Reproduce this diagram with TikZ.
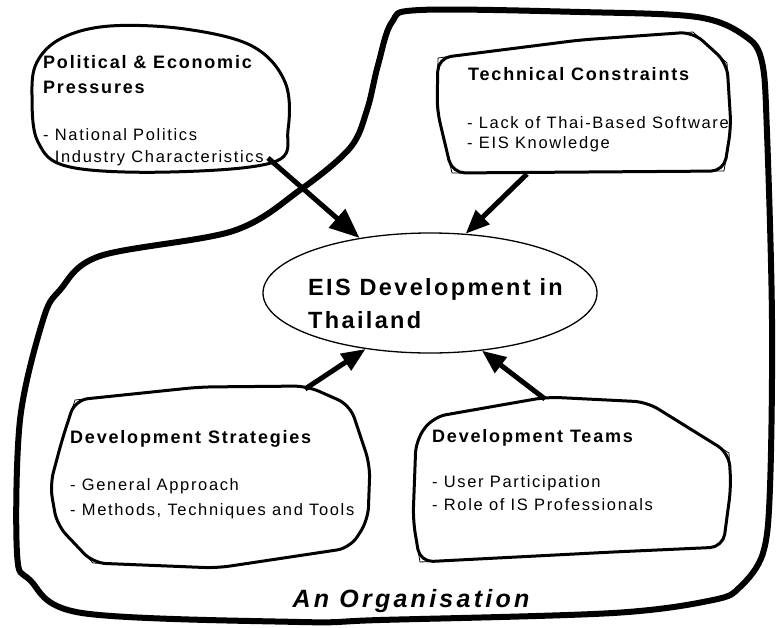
\documentclass[tikz,border=0pt]{standalone}
\usepackage{fontspec}
\setmainfont{Liberation Sans}[LetterSpace=10]
\newfontfamily\orgfont{Liberation Sans}[LetterSpace=13]
\usetikzlibrary{arrows.meta,shapes.geometric,calc}

\begin{document}
\begin{tikzpicture}[
  x=1pt,y=-1pt,
  line join=round,
  blob/.style={draw=black,line width=3pt,rounded corners=13pt},
  corner/.style={draw=black,line width=0.8pt},
  heading/.style={anchor=base west,inner sep=0pt,align=left,font=\bfseries\fontsize{18}{25}\selectfont},
  items/.style={anchor=base west,inner sep=0pt,align=left,font=\fontsize{16.5}{22}\selectfont},
  push/.style={line width=5pt,-{Triangle[length=24pt,width=19pt]}}
]
  \useasboundingbox (0,0) rectangle (776,627);

  % the organisation boundary
  \draw[line width=6pt] plot[smooth cycle,tension=0.55] coordinates {
    (392,22) (420,10) (580,12) (697,17) (745,36) (762,62) (767,133) (772,320)
    (770,487) (763,553) (740,587) (713,600) (613,613) (380,620) (300,622)
    (82,613) (30,580) (17,553) (20,420) (43,320) (60,290) (100,256) (233,231)
    (300,190) (350,148) (367,110) (378,65)};

  % factor boxes
  \draw[line width=3pt] plot[smooth cycle,tension=0.6] coordinates {
    (37,62) (62,38) (110,26) (185,29) (252,46) (285,82) (288,130) (274,162)
    (170,172) (70,167) (38,142) (32,95)};
  \draw[blob] (438,58) -- (580,40) -- (693,32) -- (727,63) -- (731,127) -- (724,171) -- (452,173) -- (437,110) -- cycle;
  \draw[corner] (438,58) -- (580,40) -- (693,32) -- (727,63) -- (731,127) -- (724,171) -- (452,173) -- (437,110) -- cycle;
  \draw[blob] (75,400) -- (200,387) -- (307,386) -- (350,405) -- (370,465) -- (368,520) -- (350,548) -- (217,568) -- (93,563) -- (57,525) -- (50,485) -- (62,440) -- cycle;
  \draw[corner] ($(75,400)!13pt!(62,440)$) -- (75,400) -- ($(75,400)!13pt!(200,387)$);
  \draw[corner] ($(93,563)!13pt!(217,568)$) -- (93,563) -- ($(93,563)!13pt!(57,525)$);
  \draw[blob] (433,417) -- (547,397) -- (647,402) -- (729,453) -- (731,487) -- (723,547) -- (613,552) -- (420,562) -- (413,520) -- (416,440) -- cycle;
  \draw[corner] ($(729,453)!13pt!(647,402)$) -- (729,453) -- ($(729,453)!13pt!(731,487)$);
  \draw[corner] ($(420,562)!13pt!(613,552)$) -- (420,562) -- ($(420,562)!13pt!(413,520)$);

  % multi-line nodes sit on the baseline of their last line
  \node[heading] (pol-head) at (43,93) {Political \& Economic\\Pressures};
  \node[items] (pol-list) at (43,162) {- National Politics\\\phantom{- }Industry Characteristics};
  \node[heading] (tech-head) at (468,80) {Technical Constraints};
  \node[items] (tech-list) at (467,148) {- Lack of Thai-Based Software\\[-2pt]- EIS Knowledge};
  \node[heading] (strat-head) at (70,443) {Development Strategies};
  \node[items] (strat-list) at (70,515) {- General Approach\\[3pt]- Methods, Techniques and Tools};
  \node[heading] (team-head) at (432,442) {Development Teams};
  \node[items] (team-list) at (432,510) {- User Participation\\[1pt]- Role of IS Professionals};

  \node[ellipse,draw,line width=1.3pt,minimum width=334pt,minimum height=120pt] (eis) at (430,293) {};
  \node[anchor=base west,inner sep=0pt,align=left,font=\bfseries\fontsize{23.5}{33}\selectfont]
    (eis-text) at (308,328) {EIS Development in\\Thailand};

  \coordinate (pol-foot) at (268,158);
  \coordinate (tech-foot) at (527,174);
  \coordinate (strat-foot) at (305,389);
  \coordinate (team-foot) at (545,399);
  \draw[push,-{Triangle[length=30pt,width=24pt]}] (pol-foot) -- (eis.142);
  \draw[push] (tech-foot) -- (eis.59);
  \draw[push] (strat-foot) -- (eis.221);
  \draw[push] (team-foot) -- (eis.312);

  \node[anchor=base,inner sep=0pt,font=\orgfont\bfseries\itshape\fontsize{25}{30}\selectfont] (org) at (411,607) {An Organisation};
\end{tikzpicture}
\end{document}
